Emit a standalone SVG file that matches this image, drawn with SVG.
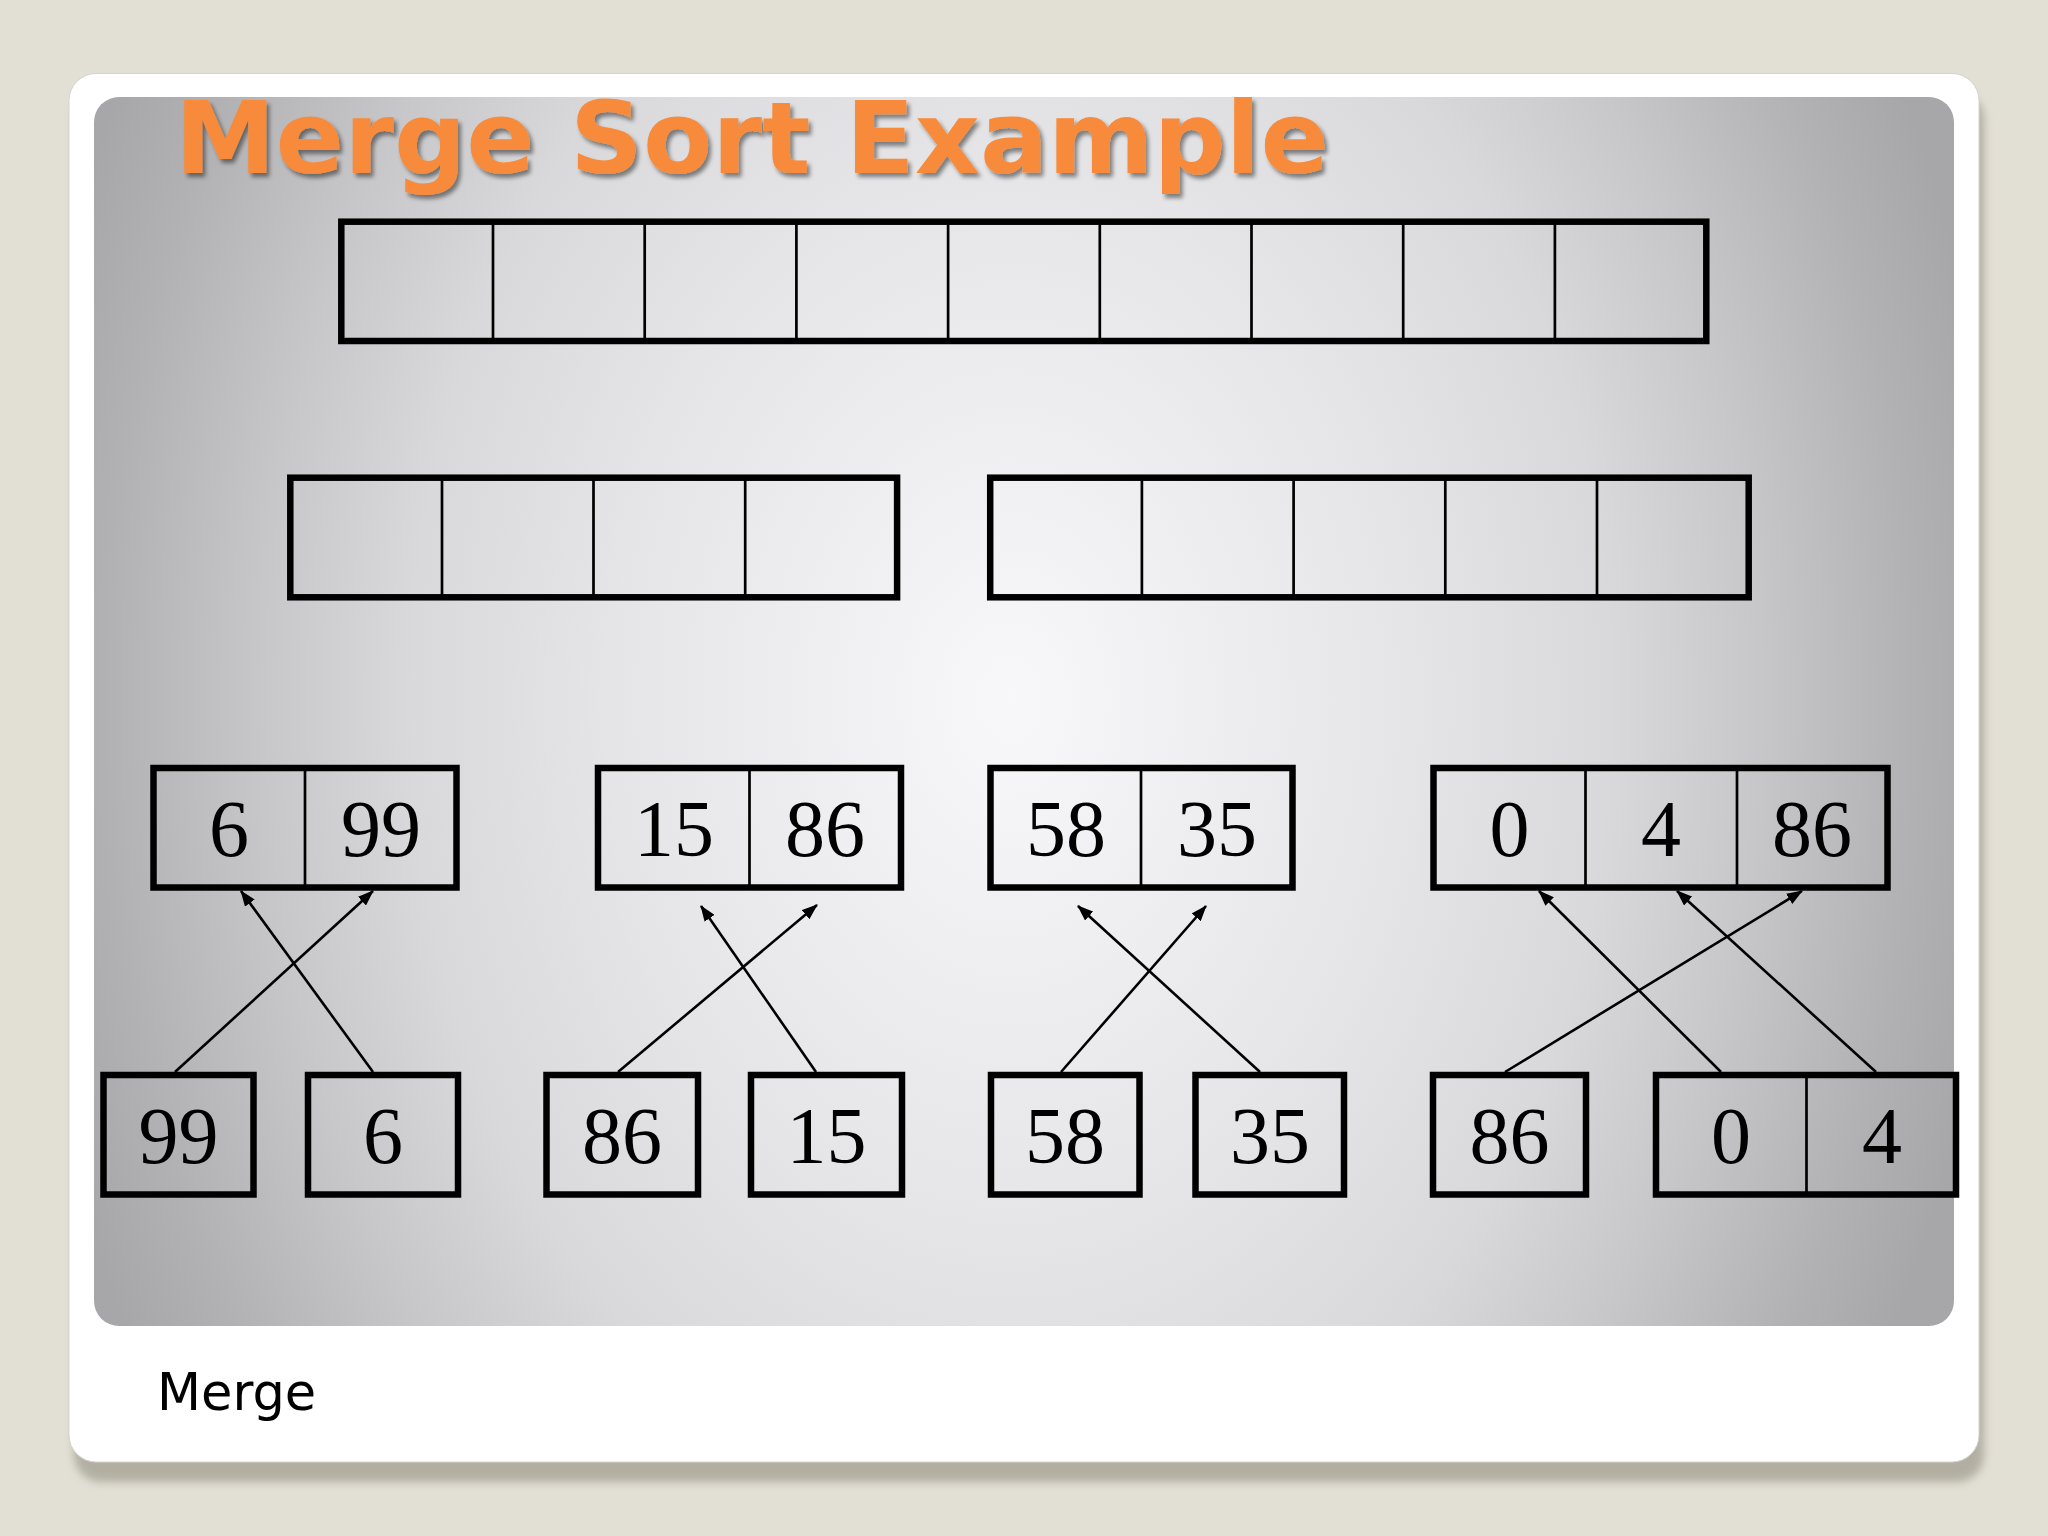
<svg xmlns="http://www.w3.org/2000/svg" width="2048" height="1536" viewBox="0 0 2048 1536">
  <defs>
    <radialGradient id="panelGrad" gradientUnits="userSpaceOnUse" cx="1010" cy="700" r="1000" gradientTransform="translate(1010,700) scale(1,1.35) translate(-1010,-700)">
      <stop offset="0" stop-color="#F8F8FA"/>
      <stop offset="0.4" stop-color="#E5E5E7"/>
      <stop offset="0.6" stop-color="#D9D9DB"/>
      <stop offset="0.75" stop-color="#C7C7C9"/>
      <stop offset="0.9" stop-color="#B2B2B4"/>
      <stop offset="1" stop-color="#A7A7A9"/>
    </radialGradient>
    <filter id="cardShadow" x="-5%" y="-5%" width="110%" height="115%">
      <feGaussianBlur stdDeviation="4"/>
    </filter>
    <filter id="titleShadow" x="-5%" y="-20%" width="110%" height="150%">
      <feDropShadow dx="3" dy="4" stdDeviation="2" flood-color="#000000" flood-opacity="0.45"/>
    </filter>
    <marker id="arr" markerUnits="userSpaceOnUse" markerWidth="16" markerHeight="12" viewBox="0 0 16 12" refX="15" refY="6" orient="auto">
      <path d="M0,0 L16,6 L0,12 z" fill="#000"/>
    </marker>
    <style>
      .box { fill: none; stroke: #000; stroke-width: 6.5; }
      .div { stroke: #000; stroke-width: 2.7; }
      .num { font-family: "Liberation Serif", "Times New Roman", serif; font-size: 80px; fill: #000; text-anchor: middle; }
      .conn line { stroke: #000; stroke-width: 2.6; marker-end: url(#arr); }
    </style>
  </defs>

  <!-- background -->
  <rect x="0" y="0" width="2048" height="1536" fill="#E2DFD4"/>
  <!-- card shadow -->
  <rect x="74" y="92" width="1910" height="1390" rx="27" fill="#9E9C8E" opacity="0.7" filter="url(#cardShadow)"/>
  <!-- card -->
  <rect x="69" y="73.5" width="1910" height="1388.5" rx="27" fill="#FFFFFF" stroke="#D6D4CA" stroke-width="1"/>
  <!-- gradient panel -->
  <rect x="94" y="97" width="1860" height="1229" rx="25" fill="url(#panelGrad)"/>

  <!-- title -->
  <text x="175" y="173" font-family="'DejaVu Sans', Verdana, sans-serif" font-weight="bold" font-size="100" fill="#F78B3B" textLength="1154" lengthAdjust="spacingAndGlyphs" filter="url(#titleShadow)">Merge Sort Example</text>

  <!-- row 1: 9 empty cells -->
  <g id="array-9">
    <rect class="box" x="341.3" y="221.7" width="1365" height="119.3"/>
    <path class="div" d="M493,221.7V341 M644.7,221.7V341 M796.4,221.7V341 M948.1,221.7V341 M1099.8,221.7V341 M1251.5,221.7V341 M1403.2,221.7V341 M1554.9,221.7V341"/>
  </g>

  <!-- row 2 -->
  <g id="array-4">
    <rect class="box" x="290.3" y="477.7" width="606.8" height="119.6"/>
    <path class="div" d="M442,477.7V597.3 M593.5,477.7V597.3 M745.2,477.7V597.3"/>
  </g>
  <g id="array-5">
    <rect class="box" x="990.2" y="477.7" width="758.5" height="119.6"/>
    <path class="div" d="M1141.9,477.7V597.3 M1293.6,477.7V597.3 M1445.3,477.7V597.3 M1597,477.7V597.3"/>
  </g>

  <!-- row 3 -->
  <g id="m-6-99">
    <rect class="box" x="153.5" y="768" width="303" height="119.5"/>
    <path class="div" d="M305,768V887.5"/>
    <text class="num" x="229" y="856">6</text>
    <text class="num" x="381" y="856">99</text>
  </g>
  <g id="m-15-86">
    <rect class="box" x="598" y="768" width="303" height="119.5"/>
    <path class="div" d="M749.5,768V887.5"/>
    <text class="num" x="674" y="856">15</text>
    <text class="num" x="825" y="856">86</text>
  </g>
  <g id="m-58-35">
    <rect class="box" x="990.5" y="768" width="302" height="119.5"/>
    <path class="div" d="M1141,768V887.5"/>
    <text class="num" x="1066" y="856">58</text>
    <text class="num" x="1217" y="856">35</text>
  </g>
  <g id="m-0-4-86">
    <rect class="box" x="1433.5" y="768" width="454" height="119.5"/>
    <path class="div" d="M1585.5,768V887.5 M1737,768V887.5"/>
    <text class="num" x="1509.5" y="856">0</text>
    <text class="num" x="1661" y="856">4</text>
    <text class="num" x="1812" y="856">86</text>
  </g>

  <!-- row 4 -->
  <g id="s-99">
    <rect class="box" x="103.5" y="1075" width="150" height="119.5"/>
    <text class="num" x="178.5" y="1163">99</text>
  </g>
  <g id="s-6">
    <rect class="box" x="308" y="1075" width="150" height="119.5"/>
    <text class="num" x="383" y="1163">6</text>
  </g>
  <g id="s-86a">
    <rect class="box" x="546.5" y="1075" width="151.5" height="119.5"/>
    <text class="num" x="622" y="1163">86</text>
  </g>
  <g id="s-15">
    <rect class="box" x="751" y="1075" width="151" height="119.5"/>
    <text class="num" x="826.5" y="1163">15</text>
  </g>
  <g id="s-58">
    <rect class="box" x="991" y="1075" width="148.5" height="119.5"/>
    <text class="num" x="1065" y="1163">58</text>
  </g>
  <g id="s-35">
    <rect class="box" x="1195.5" y="1075" width="148.5" height="119.5"/>
    <text class="num" x="1270" y="1163">35</text>
  </g>
  <g id="s-86b">
    <rect class="box" x="1433" y="1075" width="153" height="119.5"/>
    <text class="num" x="1509.5" y="1163">86</text>
  </g>
  <g id="s-0-4">
    <rect class="box" x="1656" y="1075" width="300" height="119.5"/>
    <path class="div" d="M1806.5,1075V1194.5"/>
    <text class="num" x="1731" y="1163">0</text>
    <text class="num" x="1882" y="1163">4</text>
  </g>

  <!-- connectors -->
  <g id="connectors" class="conn">
    <line x1="175" y1="1072" x2="373" y2="891"/>
    <line x1="373" y1="1072" x2="241" y2="891"/>
    <line x1="618" y1="1072" x2="817" y2="905"/>
    <line x1="816" y1="1072" x2="701" y2="906"/>
    <line x1="1061" y1="1072" x2="1206" y2="906"/>
    <line x1="1260" y1="1072" x2="1078" y2="906"/>
    <line x1="1505" y1="1072" x2="1802" y2="891"/>
    <line x1="1721" y1="1072" x2="1539" y2="891"/>
    <line x1="1876" y1="1072" x2="1677" y2="891"/>
  </g>

  <!-- footer -->
  <text x="157" y="1410" font-family="'DejaVu Sans', Verdana, sans-serif" font-size="51" fill="#000000">Merge</text>
</svg>
